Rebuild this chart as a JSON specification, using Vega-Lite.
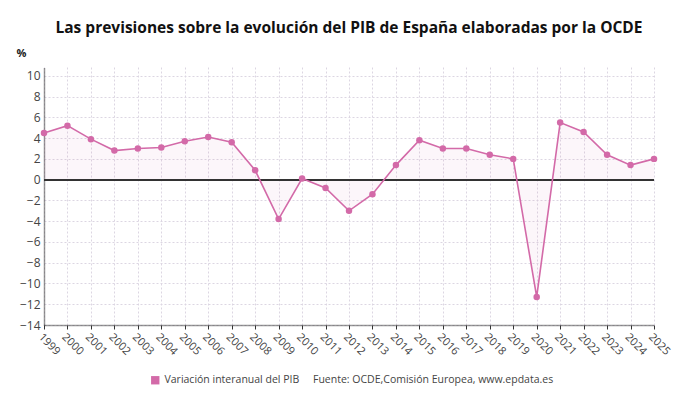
{
  "$schema": "https://vega.github.io/schema/vega-lite/v6.json",
  "width": 610,
  "height": 258,
  "autosize": {"type": "none"},
  "padding": {"left": 44, "top": 67, "right": 36, "bottom": 80},
  "background": "white",
  "title": {
    "text": "Las previsiones sobre la evolución del PIB de España elaboradas por la OCDE",
    "font": "Open Sans",
    "fontSize": 15.5,
    "fontWeight": "bold",
    "color": "#111",
    "anchor": "middle",
    "offset": 11
  },
  "config": {
    "view": {"stroke": null},
    "font": "Open Sans"
  },
  "data": {
    "values": [
      {"anio": 1999, "valor": 4.5, "serie": "Variación interanual del PIB"},
      {"anio": 2000, "valor": 5.2, "serie": "Variación interanual del PIB"},
      {"anio": 2001, "valor": 3.9, "serie": "Variación interanual del PIB"},
      {"anio": 2002, "valor": 2.8, "serie": "Variación interanual del PIB"},
      {"anio": 2003, "valor": 3.0, "serie": "Variación interanual del PIB"},
      {"anio": 2004, "valor": 3.1, "serie": "Variación interanual del PIB"},
      {"anio": 2005, "valor": 3.7, "serie": "Variación interanual del PIB"},
      {"anio": 2006, "valor": 4.1, "serie": "Variación interanual del PIB"},
      {"anio": 2007, "valor": 3.6, "serie": "Variación interanual del PIB"},
      {"anio": 2008, "valor": 0.9, "serie": "Variación interanual del PIB"},
      {"anio": 2009, "valor": -3.8, "serie": "Variación interanual del PIB"},
      {"anio": 2010, "valor": 0.1, "serie": "Variación interanual del PIB"},
      {"anio": 2011, "valor": -0.8, "serie": "Variación interanual del PIB"},
      {"anio": 2012, "valor": -3.0, "serie": "Variación interanual del PIB"},
      {"anio": 2013, "valor": -1.4, "serie": "Variación interanual del PIB"},
      {"anio": 2014, "valor": 1.4, "serie": "Variación interanual del PIB"},
      {"anio": 2015, "valor": 3.8, "serie": "Variación interanual del PIB"},
      {"anio": 2016, "valor": 3.0, "serie": "Variación interanual del PIB"},
      {"anio": 2017, "valor": 3.0, "serie": "Variación interanual del PIB"},
      {"anio": 2018, "valor": 2.4, "serie": "Variación interanual del PIB"},
      {"anio": 2019, "valor": 2.0, "serie": "Variación interanual del PIB"},
      {"anio": 2020, "valor": -11.3, "serie": "Variación interanual del PIB"},
      {"anio": 2021, "valor": 5.5, "serie": "Variación interanual del PIB"},
      {"anio": 2022, "valor": 4.6, "serie": "Variación interanual del PIB"},
      {"anio": 2023, "valor": 2.4, "serie": "Variación interanual del PIB"},
      {"anio": 2024, "valor": 1.4, "serie": "Variación interanual del PIB"},
      {"anio": 2025, "valor": 2.0, "serie": "Variación interanual del PIB"}
    ]
  },
  "encoding": {
    "x": {
      "field": "anio",
      "type": "quantitative",
      "scale": {"domain": [1999, 2025], "nice": false, "zero": false},
      "axis": {
        "values": [1999,2000,2001,2002,2003,2004,2005,2006,2007,2008,2009,2010,2011,2012,2013,2014,2015,2016,2017,2018,2019,2020,2021,2022,2023,2024,2025],
        "format": "d",
        "title": null,
        "labelAngle": 45,
        "labelAlign": "left",
        "labelBaseline": "top",
        "labelFont": "Open Sans",
        "labelFontSize": 11,
        "labelColor": "#444",
        "labelPadding": 2,
        "domainColor": "#333",
        "domainDash": [1, 1],
        "domainWidth": 1.5,
        "tickColor": "#333",
        "tickSize": 4,
        "grid": true,
        "gridColor": "#dcd6e2",
        "gridDash": [2, 2],
        "gridWidth": 1,
        "labelOverlap": false
      }
    },
    "y": {
      "field": "valor",
      "type": "quantitative",
      "scale": {"domain": [-14, 10.85], "nice": false, "zero": false},
      "axis": {
        "values": [-14,-12,-10,-8,-6,-4,-2,0,2,4,6,8,10],
        "title": "%",
        "titleAngle": 0,
        "titleAlign": "left",
        "titleBaseline": "middle",
        "titleX": -28,
        "titleY": -14,
        "titleFont": "Open Sans",
        "titleFontSize": 11,
        "titleFontWeight": "bold",
        "titleColor": "#222",
        "labelFont": "Open Sans",
        "labelFontSize": 12,
        "labelColor": "#444",
        "labelPadding": 4,
        "domainColor": "#333",
        "domainDash": [1, 1],
        "domainWidth": 1.5,
        "ticks": false,
        "grid": true,
        "gridColor": "#dcd6e2",
        "gridDash": [2, 2],
        "gridWidth": 1
      }
    }
  },
  "layer": [
    {
      "mark": {"type": "area", "color": "#d36aa8", "opacity": 0.06},
      "encoding": {"y2": {"datum": 0}}
    },
    {
      "mark": {"type": "rule", "color": "#333", "strokeWidth": 1.5},
      "encoding": {"y": {"datum": 0}, "x": {"datum": 1999}, "x2": {"datum": 2025}}
    },
    {
      "mark": {"type": "line", "color": "#d36aa8", "strokeWidth": 1.6},
      "encoding": {}
    },
    {
      "mark": {"type": "point", "filled": true, "opacity": 1, "size": 42},
      "encoding": {
        "color": {
          "field": "serie",
          "type": "nominal",
          "scale": {"range": ["#d36aa8"]},
          "legend": {
            "orient": "none",
            "legendX": 106,
            "legendY": 308,
            "direction": "horizontal",
            "symbolType": "square",
            "symbolSize": 70,
            "symbolOpacity": 1,
            "labelFont": "Open Sans",
            "labelFontSize": 10.5,
            "labelColor": "#444",
            "labelLimit": 400,
            "title": "Fuente: OCDE,Comisión Europea, www.epdata.es",
            "titleOrient": "right",
            "titleFont": "Open Sans",
            "titleFontSize": 10.5,
            "titleFontWeight": "normal",
            "titleColor": "#444",
            "titleLimit": 500,
            "titlePadding": 14,
            "titleBaseline": "middle"
          }
        }
      }
    }
  ]
}
